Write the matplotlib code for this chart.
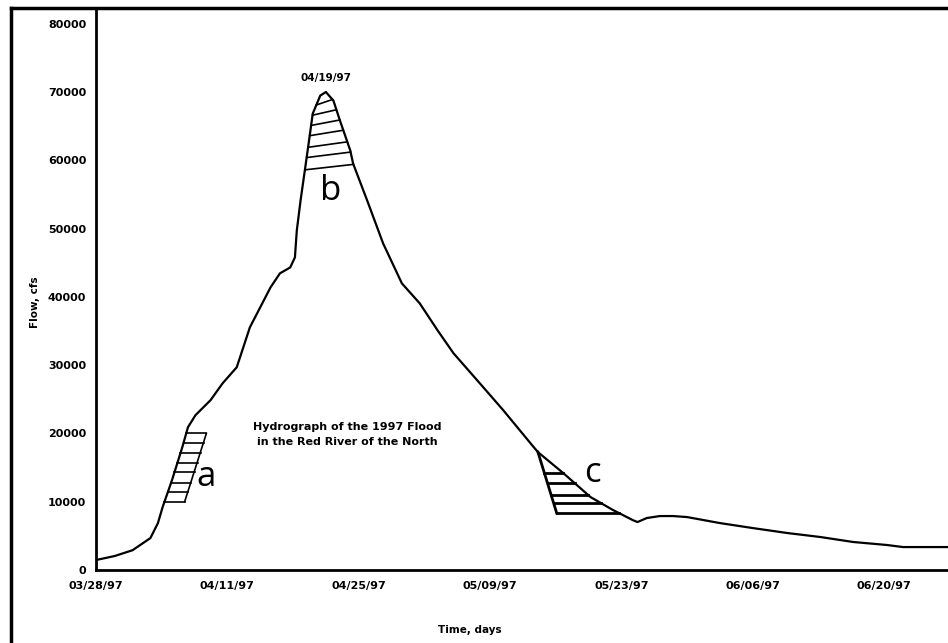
import numpy as np
import pandas as pd
import matplotlib
matplotlib.use("Agg")
import matplotlib.pyplot as plt
import matplotlib.dates as mdates
from matplotlib.lines import Line2D

start = pd.Timestamp("1997-03-28")
days = [0, 2.0, 3.9, 5.8, 6.6, 7.1, 8.1, 9.2, 9.8, 10.6, 12.2, 13.5, 15.0, 16.4,
        17.5, 18.6, 19.6, 20.7, 21.2, 21.4, 21.8, 22.3, 22.6, 23.1, 23.9, 24.5,
        25.3, 26.0, 27.1, 27.4, 28.9, 30.6, 32.6, 34.5, 36.4, 38.1, 40.9, 43.4,
        46.3, 47.1, 49.8, 52.7, 55.1, 57.2, 57.7, 58.7, 60.1, 61.5, 63.0, 66.5,
        70.0, 73.7, 77.2, 80.7, 84.3, 86.0, 90.8]
flow = [1460, 2050, 2900, 4680, 6870, 9210, 13160, 17990, 20910, 22670, 24860,
        27350, 29690, 35540, 38460, 41390, 43440, 44310, 45780, 49720, 54110,
        58940, 61860, 66840, 69470, 70000, 68740, 65810, 61430, 59520, 54110,
        47820, 41970, 39050, 35100, 31740, 27350, 23400, 18570, 17260, 14190,
        10680, 8780, 7310, 7020, 7610, 7900, 7900, 7750, 6870, 6140, 5410, 4830,
        4100, 3660, 3360, 3360]

# zones hachurées
a_levels = [10000, 11400, 12800, 14300, 15700, 17100, 18600, 20000]
a_width = 2.15  # jours
b_levels = [59000, 60800, 62300, 64000, 65500, 67000, 68500]
c_top = 17260
c_bottom_day = 49.1
c_levels = [14200, 12700, 11000, 9800, 8330]

yticks = [0, 10000, 20000, 30000, 40000, 50000, 60000, 70000, 80000]
tick_dates = ["1997-03-28", "1997-04-11", "1997-04-25", "1997-05-09",
              "1997-05-23", "1997-06-06", "1997-06-20"]

days = np.array(days)
flow = np.array(flow)
ipk = int(np.argmax(flow))
rise_d, rise_q = days[:ipk + 1], flow[:ipk + 1]
fall_d, fall_q = days[ipk:44], flow[ipk:44]


def d2n(d):
    return mdates.date2num(start + pd.to_timedelta(np.asarray(d), unit="D"))


def x_rise(q):
    return np.interp(q, rise_q, rise_d)


def x_fall(q):
    return np.interp(q, fall_q[::-1], fall_d[::-1])


plt.rcParams['font.family'] = 'DejaVu Sans'
fig = plt.figure(figsize=(9.48, 6.43), dpi=100)
ax = fig.add_axes([96 / 948, 1 - 570 / 643, 1 - 96 / 948, (570 - 8) / 643])

ax.plot(d2n(days), flow, color='black', lw=1.6, solid_joinstyle='round')

# a
qa = np.array(a_levels)
xa = x_rise(qa)
ax.plot(d2n([xa[0] + a_width, xa[-1] + a_width]), [qa[0], qa[-1]], color='black', lw=1.2)
for q, x in zip(qa, xa):
    ax.plot(d2n([x, x + a_width]), [q, q], color='black', lw=1.2)

# b
for q in b_levels:
    ql, qr = q - 400, q + 400
    ax.plot(d2n([x_rise(ql), x_fall(qr)]), [ql, qr], color='black', lw=1.2)

# c
c_top_day = x_fall(c_top)
ax.plot(d2n([c_top_day, c_bottom_day]), [c_top, c_levels[-1]], color='black', lw=2)
for q in c_levels:
    xl = np.interp(q, [c_levels[-1], c_top], [c_bottom_day, c_top_day])
    ax.plot(d2n([xl, x_fall(q)]), [q, q], color='black', lw=2)

ax.text(d2n(10.7), 13600, "a", fontsize=25, ha='left', va='center', family='Open Sans')
ax.text(d2n(25.0), 55500, "b", fontsize=25, ha='center', va='center', family='Open Sans')
ax.text(d2n(52.0), 14200, "c", fontsize=25, ha='left', va='center', family='Open Sans')
ax.text(d2n(24.5), 71300, "04/19/97", fontsize=7.5, fontweight='bold', ha='center', va='bottom')
ax.text(d2n(26.8), 19900, "Hydrograph of the 1997 Flood\nin the Red River of the North",
        fontsize=8, fontweight='bold', ha='center', va='center', linespacing=1.6)

ax.set_xlim(d2n(0), d2n(90.8))
ax.set_ylim(0, 82300)
ax.set_yticks(yticks)
ax.set_yticklabels([str(v) for v in yticks])
ax.set_xticks(mdates.date2num(pd.to_datetime(tick_dates)))
ax.xaxis.set_major_formatter(mdates.DateFormatter("%m/%d/%y"))
ax.tick_params(length=0, labelsize=8)
ax.tick_params(axis='y', pad=7)
ax.tick_params(axis='x', pad=8)
for lab in ax.get_xticklabels() + ax.get_yticklabels():
    lab.set_fontweight('bold')

for s in ['top', 'right']:
    ax.spines[s].set_visible(False)
for s in ['left', 'bottom']:
    ax.spines[s].set_linewidth(2)

fig.text(35 / 948, 1 - 302 / 643, "Flow, cfs", rotation=90, fontsize=7.5,
         fontweight='bold', ha='center', va='center')
fig.text(470 / 948, 1 - 630 / 643, "Time, days", fontsize=7.5,
         fontweight='bold', ha='center', va='center')

# cadre extérieur
fig.add_artist(Line2D([11 / 948, 1], [1 - 8 / 643] * 2, color='black', lw=2.5))
fig.add_artist(Line2D([11 / 948] * 2, [0, 1 - 8 / 643], color='black', lw=2.5))

fig.savefig("out.png", dpi=100)
